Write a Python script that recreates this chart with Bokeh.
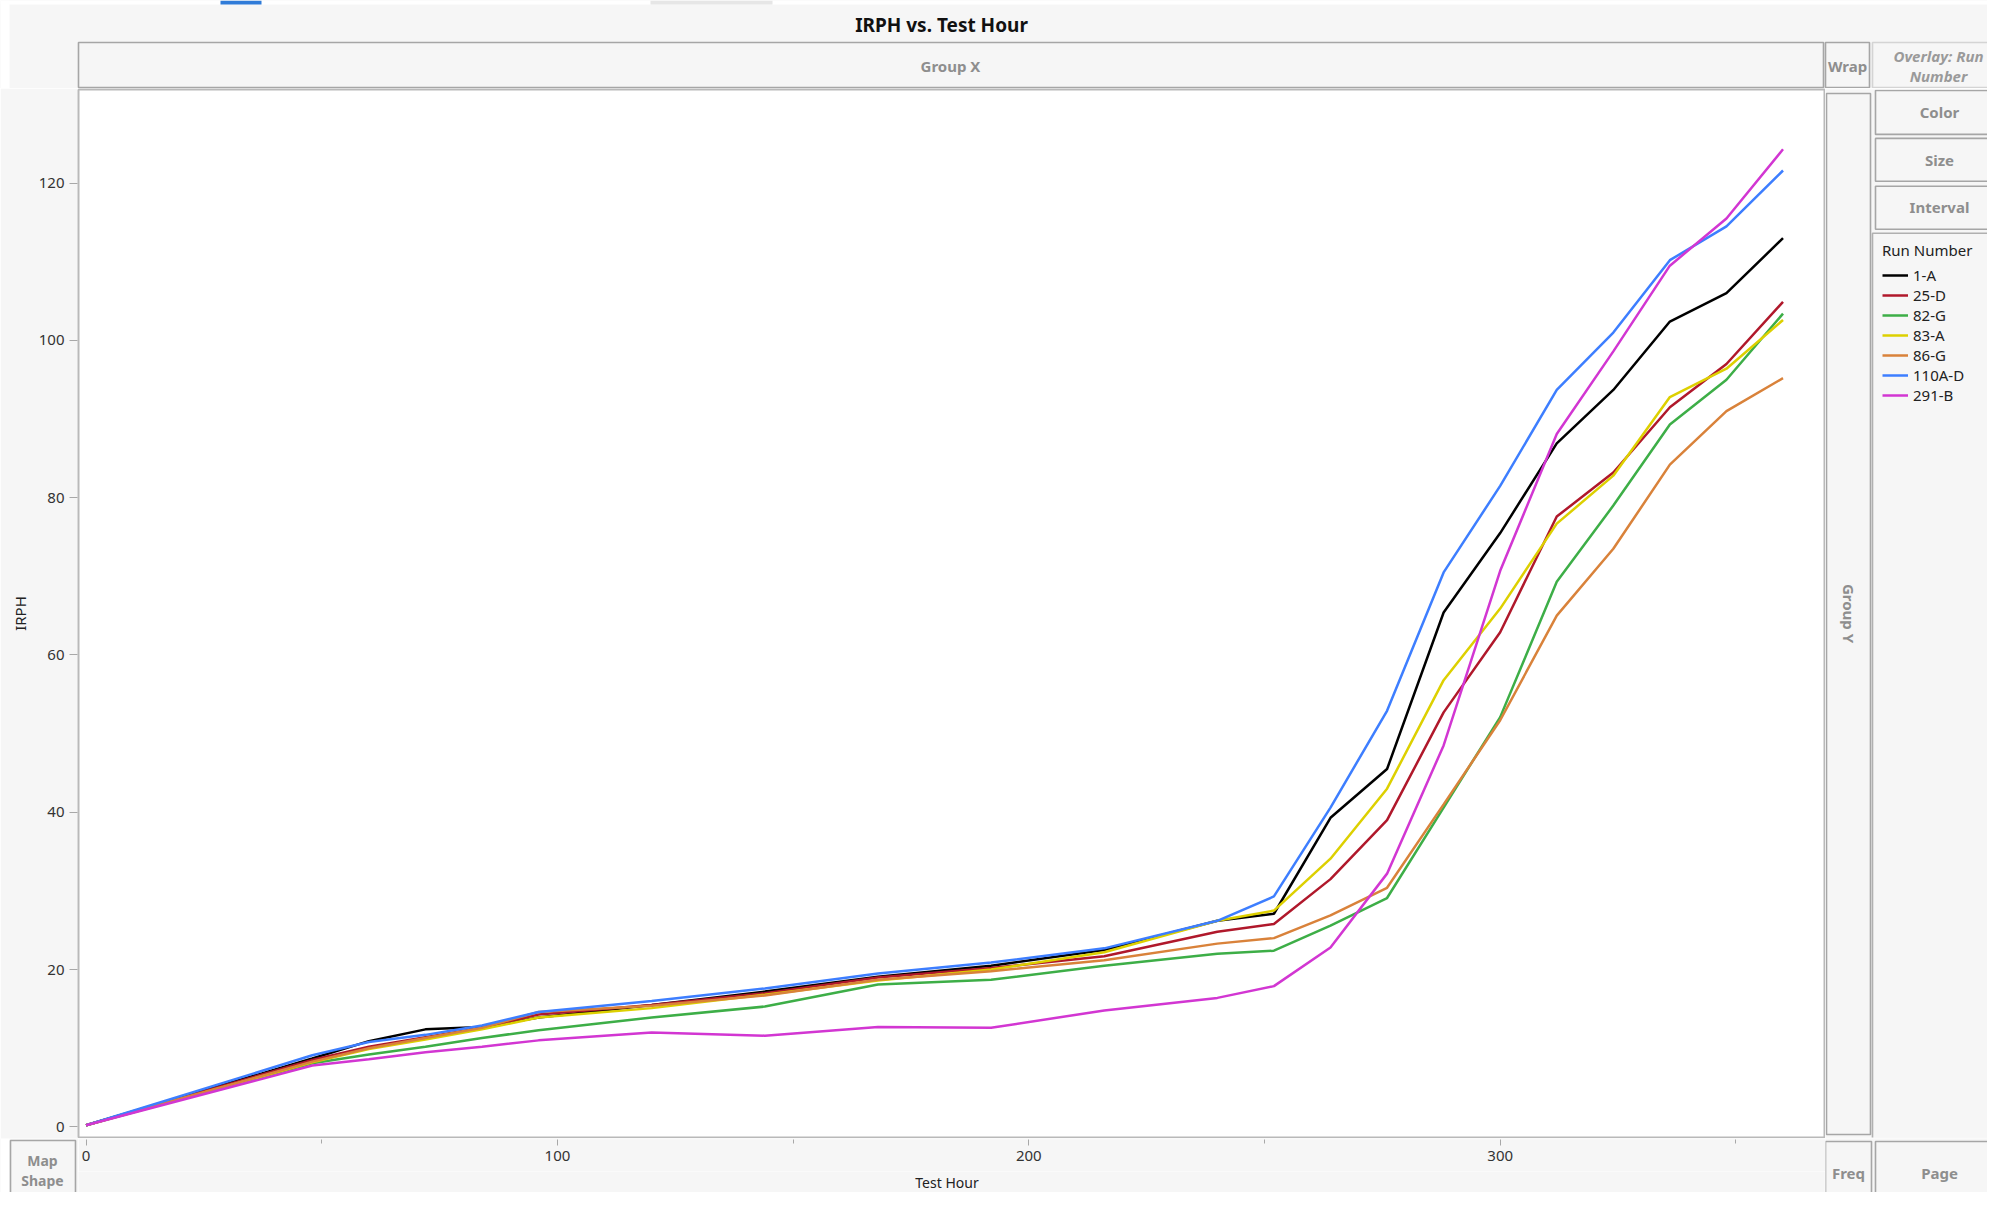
import math
import numpy as np
from bokeh.plotting import figure
from bokeh.models import Range1d, Legend, LegendItem, FixedTicker, ColumnDataSource
from bokeh.layouts import row, column
from bokeh.core.properties import value
from bokeh.embed import file_html
from bokeh.resources import INLINE

# ---------------- data ----------------
hours = [0, 48, 60, 72, 84, 96, 120, 144, 168, 192, 216, 240, 252,
         264, 276, 288, 300, 312, 324, 336, 348, 360]

run_names = ["1-A", "25-D", "82-G", "83-A", "86-G", "110A-D", "291-B"]

irph_1A = [0.2, 8.7, 10.9, 12.4, 12.7, 13.9, 15.5, 17.2, 19.1, 20.5, 22.5, 26.2, 27.1,
           39.3, 45.5, 65.4, 75.5, 86.9, 93.7, 102.4, 106.0, 113.0]
irph_25D = [0.2, 8.5, 10.2, 11.4, 12.6, 14.3, 15.5, 17.0, 19.0, 20.2, 21.7, 24.8, 25.8,
            31.5, 39.0, 52.7, 62.9, 77.6, 83.2, 91.5, 97.0, 104.9]
irph_82G = [0.2, 8.1, 9.2, 10.2, 11.3, 12.3, 13.9, 15.3, 18.1, 18.7, 20.5, 22.0, 22.4,
            25.6, 29.1, 40.6, 52.1, 69.3, 79.0, 89.3, 95.0, 103.4]
irph_83A = [0.2, 8.2, 9.9, 11.1, 12.4, 13.9, 15.1, 16.8, 18.6, 20.0, 22.2, 26.2, 27.5,
            34.1, 43.0, 56.8, 65.9, 76.7, 82.8, 92.8, 96.4, 102.6]
irph_86G = [0.2, 8.3, 10.0, 11.3, 12.6, 14.6, 15.4, 16.7, 18.7, 19.8, 21.2, 23.3, 24.0,
            26.9, 30.4, 41.0, 51.7, 65.0, 73.5, 84.2, 91.0, 95.2]
irph_110AD = [0.2, 9.1, 10.8, 11.7, 12.9, 14.6, 16.0, 17.6, 19.5, 20.9, 22.7, 26.2, 29.3,
              40.6, 52.9, 70.5, 81.5, 93.7, 101.0, 110.2, 114.5, 121.6]
irph_291B = [0.2, 7.8, 8.6, 9.5, 10.2, 11.0, 12.0, 11.6, 12.7, 12.6, 14.8, 16.4, 17.9,
             22.8, 32.2, 48.5, 70.7, 88.1, 98.6, 109.5, 115.5, 124.3]

run_values = [irph_1A, irph_25D, irph_82G, irph_83A, irph_86G, irph_110AD, irph_291B]
run_colors = ["#000000", "#B0182B", "#3DAE47", "#DDD000", "#D9823A", "#3D7EFF", "#D236D2"]

x_ticks = [0, 100, 200, 300]
x_minor_ticks = [50, 150, 250, 350]
y_ticks = [0, 20, 40, 60, 80, 100, 120]

title_text = "IRPH vs. Test Hour"
x_title = "Test Hour"
y_title = "IRPH"
legend_title = "Run Number"

# ---------------- geometry (pixels of the page) ----------------
W, H = 1987, 1192
TOP_H = 88
MID_H = 1050          # frame rows 89..1137 plus 1px borders
BOT_H = H - TOP_H - MID_H
LEFT_W = 78
RIGHT_W = 162
MAIN_W = W - LEFT_W - RIGHT_W
XAX_H = 33
XLAB_H = BOT_H - XAX_H

X0, X1 = -1.6, 368.8
Y0, Y1 = -1.35, 131.9

BG = "#f6f6f6"
FONT = "Noto Sans"
BOX_LINE = "#a6a6a6"
BOX_TEXT = "#8e8e8e"

x_range = Range1d(X0, X1)
y_range = Range1d(Y0, Y1)


def deco(x0, y0, x1, y1):
    """A figure whose frame covers its whole area, in page-pixel units (y negated)."""
    f = figure(width=x1 - x0, height=y1 - y0, output_backend="svg",
               toolbar_location=None, x_axis_location=None, y_axis_location=None,
               x_range=Range1d(x0, x1), y_range=Range1d(-y1, -y0),
               min_border=0, min_border_left=0, min_border_right=0,
               min_border_top=0, min_border_bottom=0)
    f.outline_line_color = None
    f.background_fill_color = BG
    f.border_fill_color = BG
    f.grid.visible = False
    return f


def boxes(f, specs, line=BOX_LINE, fill=BG, lw=1.6):
    f.quad(left=[s[0] for s in specs], right=[s[2] for s in specs],
           top=[-s[1] for s in specs], bottom=[-s[3] for s in specs],
           fill_color=fill, line_color=line, line_width=lw)


def texts(f, xs, ys, labels, size="15px", color=BOX_TEXT, style="bold", angle=0.0):
    f.text(x=xs, y=[-y for y in ys], text=labels, text_font=value(FONT),
           text_font_size=size, text_color=color, text_font_style=style,
           text_align="center", text_baseline="middle", angle=angle)


# ---- top strip: title + Group X / Wrap / Overlay ----
top = deco(0, 0, W, TOP_H)
top.quad(left=[0, 0], right=[W, 9], top=[0, 0], bottom=[-4, -TOP_H],
         fill_color="white", line_color=None)
top.quad(left=[220], right=[261], top=[0], bottom=[-4], fill_color="#2f7bd8", line_color=None)
top.quad(left=[650], right=[772], top=[0], bottom=[-4], fill_color="#e6e6e6", line_color=None)
boxes(top, [(78, 42, 1823, 87), (1825, 42, 1869, 87)])
boxes(top, [(1872, 42, 2010, 87)], line="#d4d4d4")
texts(top, [941], [24], [title_text], size="19px", color="#111111")
texts(top, [950, 1847], [65, 65], ["Group X", "Wrap"])
texts(top, [1938, 1938], [55, 75], ["Overlay: Run", "Number"], color="#9a9a9a",
      style="bold italic")

# ---- y axis column ----
yax = figure(width=LEFT_W, height=MID_H, output_backend="svg", toolbar_location=None,
             x_range=Range1d(0, 1), y_range=y_range, x_axis_location=None,
             y_axis_location="left",
             min_border=0, min_border_left=LEFT_W - 1, min_border_right=0,
             min_border_top=1, min_border_bottom=1)
yax.border_fill_color = BG
yax.background_fill_color = "#b9b9b9"
yax.outline_line_color = None
yax.grid.visible = False
yax.yaxis.ticker = FixedTicker(ticks=y_ticks, minor_ticks=[])
yax.yaxis.axis_line_color = None
yax.yaxis.major_tick_line_color = "#a8a8a8"
yax.yaxis.major_tick_in = 0
yax.yaxis.major_tick_out = 8
yax.yaxis.minor_tick_out = 0
yax.yaxis.major_label_standoff = 5
yax.yaxis.major_label_text_font = FONT
yax.yaxis.major_label_text_font_size = "15px"
yax.yaxis.major_label_text_color = "#333333"
yax.yaxis.axis_label = y_title
yax.yaxis.axis_label_text_font = FONT
yax.yaxis.axis_label_text_font_size = "15px"
yax.yaxis.axis_label_text_font_style = "normal"
yax.yaxis.axis_label_text_color = "#222222"
yax.yaxis.axis_label_standoff = 6

# ---- main plot frame ----
main = figure(width=MAIN_W, height=MID_H, output_backend="svg", toolbar_location=None,
              x_range=x_range, y_range=y_range, x_axis_location=None,
              y_axis_location=None,
              min_border=0, min_border_left=0, min_border_right=1,
              min_border_top=1, min_border_bottom=1)
main.border_fill_color = BG
main.background_fill_color = "white"
main.outline_line_color = "#b9b9b9"
main.outline_line_width = 2
main.grid.visible = False

for name, vals, col in zip(run_names, run_values, run_colors):
    src = ColumnDataSource(dict(x=hours, y=vals))
    main.line("x", "y", source=src, line_color=col, line_width=2.5)

# ---- right column: Group Y, Color/Size/Interval, legend ----
rx0 = LEFT_W + MAIN_W
rt = deco(rx0, TOP_H, W, TOP_H + MID_H)
boxes(rt, [(1826, 92, 1870, 1135), (1875, 89, 2010, 133), (1875, 137, 2010, 180),
           (1875, 185, 2010, 228)])
boxes(rt, [(1872, 232, 2010, 1145)], line="#b0b0b0")
texts(rt, [1939, 1939, 1939], [111, 159, 206], ["Color", "Size", "Interval"])
texts(rt, [1848], [613], ["Group Y"], angle=-math.pi / 2)

items = []
for name, col in zip(run_names, run_colors):
    # legend-only sample renderer (no visible data)
    r = rt.line(x=np.array([np.nan]), y=np.array([np.nan]), line_color=col, line_width=2.5)
    items.append(LegendItem(label=name, renderers=[r]))
legend = Legend(items=items, location=(1882 - rx0, (TOP_H + MID_H) - 406),
                title=legend_title,
                border_line_color=None, background_fill_alpha=0.0,
                padding=0, margin=0, spacing=0,
                label_height=20, glyph_height=20, glyph_width=26,
                label_standoff=5, title_standoff=5,
                label_text_font=FONT, label_text_font_size="15px",
                label_text_color="#222222",
                title_text_font=FONT, title_text_font_size="15px",
                title_text_font_style="normal", title_text_color="#222222")
rt.add_layout(legend)

# ---- bottom row ----
by0 = TOP_H + MID_H

ms = deco(0, by0, LEFT_W, H)
ms.quad(left=[0], right=[9], top=[-by0], bottom=[-H], fill_color="white", line_color=None)
boxes(ms, [(10, 1140, 75, 1210)])
texts(ms, [42, 42], [1160, 1180], ["Map", "Shape"], size="14px")

xax = figure(width=MAIN_W, height=XAX_H, output_backend="svg", toolbar_location=None,
             x_range=x_range, y_range=Range1d(0, 1), x_axis_location="below",
             y_axis_location=None,
             min_border=0, min_border_left=0, min_border_right=1,
             min_border_top=0, min_border_bottom=XAX_H - 1)
xax.border_fill_color = BG
xax.background_fill_color = BG
xax.outline_line_color = None
xax.grid.visible = False
xax.xaxis.ticker = FixedTicker(ticks=x_ticks, minor_ticks=x_minor_ticks)
xax.xaxis.axis_line_color = None
xax.xaxis.major_tick_line_color = "#a8a8a8"
xax.xaxis.minor_tick_line_color = "#a8a8a8"
xax.xaxis.major_tick_in = 0
xax.xaxis.minor_tick_in = 0
xax.xaxis.major_tick_out = 6
xax.xaxis.minor_tick_out = 4
xax.xaxis.major_label_standoff = 5
xax.xaxis.major_label_text_font = FONT
xax.xaxis.major_label_text_font_size = "15px"
xax.xaxis.major_label_text_color = "#333333"

xl = deco(LEFT_W, by0 + XAX_H, LEFT_W + MAIN_W, H)
texts(xl, [947], [by0 + XAX_H + XLAB_H / 2], [x_title], size="14px",
      color="#222222", style="normal")

br = deco(rx0, by0, W, H)
boxes(br, [(1825, 1141, 1871, 1210), (1875, 1141, 2010, 1210)])
texts(br, [1848, 1939], [1172, 1172], ["Freq", "Page"])

layout = column(
    top,
    row(yax, main, rt, spacing=0),
    row(ms, column(xax, xl, spacing=0), br, spacing=0),
    spacing=0,
)

open("out.html", "w").write(file_html(layout, INLINE))
